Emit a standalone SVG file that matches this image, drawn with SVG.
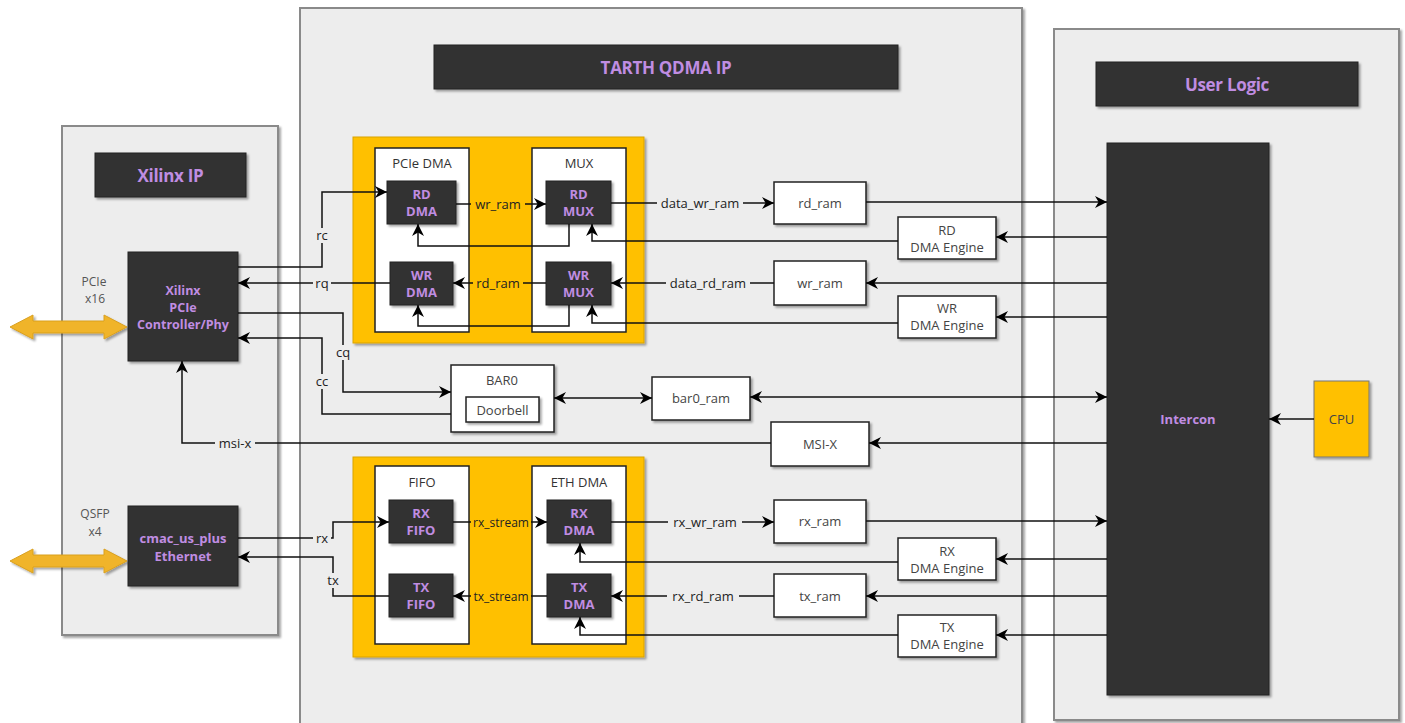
<svg xmlns="http://www.w3.org/2000/svg" width="1405" height="723" viewBox="0 0 1405 723">
<defs>
<filter id="sh" x="-10%" y="-10%" width="130%" height="130%">
<feDropShadow dx="2" dy="2" stdDeviation="1.2" flood-color="#000" flood-opacity="0.35"/>
</filter>
<marker id="ah" viewBox="0 0 10 10" refX="10" refY="5" markerWidth="12" markerHeight="12" markerUnits="userSpaceOnUse" orient="auto-start-reverse">
<path d="M0,0 L10,5 L0,10 L3,5 z" fill="#000"/>
</marker>
<style>
.cont{fill:#ededed;stroke:#8a8a8a;stroke-width:2;filter:url(#sh)}
.dark{fill:#333333;stroke:#222;stroke-width:1;filter:url(#sh)}
.org{fill:#ffc000;stroke:#d9a300;stroke-width:1;filter:url(#sh)}
.wht{fill:#ffffff;stroke:#222;stroke-width:1.5}
.whts{fill:#ffffff;stroke:#222;stroke-width:1.5;filter:url(#sh)}
.cpu{fill:#ffc000;stroke:#777;stroke-width:1;filter:url(#sh)}
.title{font-family:"Open Sans","Liberation Sans",sans-serif;font-weight:bold;font-size:17px;fill:#c08de2;text-anchor:middle;dominant-baseline:central;letter-spacing:-0.3px}
.bl{font-family:"Open Sans","Liberation Sans",sans-serif;font-weight:bold;font-size:13px;fill:#c08de2;text-anchor:middle;dominant-baseline:central}
.wl{font-family:"Open Sans","Liberation Sans",sans-serif;font-size:13px;fill:#444;text-anchor:middle;dominant-baseline:central}
.el{font-family:"Open Sans","Liberation Sans",sans-serif;font-size:13px;fill:#222;text-anchor:middle;dominant-baseline:central}
.gl{font-family:"Open Sans","Liberation Sans",sans-serif;font-size:12px;fill:#555;text-anchor:middle;dominant-baseline:central}
.ln{fill:none;stroke:#111;stroke-width:1.5}
.arr{marker-end:url(#ah)}
.bi{marker-start:url(#ah);marker-end:url(#ah)}
.bgg{fill:#ededed}
.bgo{fill:#ffc000}
.yarrow{fill:#f0b429;stroke:#d9a020;stroke-width:1;filter:url(#sh)}
</style>
</defs>
<rect x="0" y="0" width="1405" height="723" fill="#ffffff"/>

<!-- containers -->
<g id="xilinx-ip">
<rect class="cont" x="62" y="126" width="216" height="509"/>
<rect class="dark" x="95" y="153" width="151" height="44"/>
<text class="title" x="170.5" y="175">Xilinx IP</text>
<text class="gl" x="94" y="281">PCIe</text>
<text class="gl" x="95" y="298">x16</text>
<text class="gl" x="95" y="513">QSFP</text>
<text class="gl" x="95" y="531">x4</text>
</g>
<g id="tarth-qdma-ip">
<rect class="cont" x="300" y="8" width="722" height="722"/>
<rect class="dark" x="434" y="45" width="464" height="44"/>
<text class="title" x="666" y="67">TARTH QDMA IP</text>
</g>
<g id="user-logic">
<rect class="cont" x="1054" y="29" width="345" height="691"/>
<rect class="dark" x="1096" y="62" width="262" height="44"/>
<text class="title" x="1227" y="84">User Logic</text>
</g>

<!-- yellow link arrows -->
<g id="pcie-link">
<polygon class="yarrow" points="10,327 33,315 33,321 104,321 104,315 127,327 104,339 104,333 33,333 33,339"/>
</g>
<g id="qsfp-link">
<polygon class="yarrow" points="10,561 33,549 33,555 104,555 104,549 127,561 104,573 104,567 33,567 33,573"/>
</g>

<g id="pcie-controller">
<rect class="dark" x="128" y="252" width="110" height="109"/>
<text class="bl" x="183" y="290" style="font-size:12.5px">Xilinx</text>
<text class="bl" x="183" y="307" style="font-size:12.5px">PCIe</text>
<text class="bl" x="183" y="324" style="font-size:12.5px">Controller/Phy</text>
</g>
<g id="cmac">
<rect class="dark" x="128" y="506" width="110" height="80"/>
<text class="bl" x="183" y="538">cmac_us_plus</text>
<text class="bl" x="183" y="556">Ethernet</text>
</g>

<!-- PCIe DMA orange block -->
<g id="pcie-block">
<rect class="org" x="353" y="137" width="291" height="206"/>
</g>
<g id="pcie-dma">
<rect class="wht" x="375" y="148" width="94" height="184"/>
<text class="wl" x="422" y="163" style="fill:#333">PCIe DMA</text>
</g>
<g id="mux">
<rect class="wht" x="532" y="148" width="94" height="184"/>
<text class="wl" x="579" y="163" style="fill:#333">MUX</text>
</g>
<g id="rd-dma">
<rect class="dark" x="387" y="181" width="69" height="43"/>
<text class="bl" x="421.5" y="194">RD</text>
<text class="bl" x="421.5" y="211">DMA</text>
</g>
<g id="wr-dma">
<rect class="dark" x="390" y="262" width="63" height="43"/>
<text class="bl" x="421.5" y="275">WR</text>
<text class="bl" x="421.5" y="292">DMA</text>
</g>
<g id="rd-mux">
<rect class="dark" x="546" y="181" width="65" height="43"/>
<text class="bl" x="578.5" y="194">RD</text>
<text class="bl" x="578.5" y="211">MUX</text>
</g>
<g id="wr-mux">
<rect class="dark" x="546" y="262" width="65" height="43"/>
<text class="bl" x="578.5" y="275">WR</text>
<text class="bl" x="578.5" y="292">MUX</text>
</g>

<!-- ETH orange block -->
<g id="eth-block">
<rect class="org" x="353" y="457" width="291" height="200"/>
</g>
<g id="fifo">
<rect class="wht" x="375" y="466" width="94" height="178"/>
<text class="wl" x="422" y="482" style="fill:#333">FIFO</text>
</g>
<g id="eth-dma">
<rect class="wht" x="532" y="466" width="94" height="178"/>
<text class="wl" x="579" y="482" style="fill:#333">ETH DMA</text>
</g>
<g id="rx-fifo">
<rect class="dark" x="389" y="500" width="64" height="43"/>
<text class="bl" x="421" y="513">RX</text>
<text class="bl" x="421" y="530">FIFO</text>
</g>
<g id="tx-fifo">
<rect class="dark" x="389" y="574" width="64" height="43"/>
<text class="bl" x="421" y="587">TX</text>
<text class="bl" x="421" y="604">FIFO</text>
</g>
<g id="rx-dma">
<rect class="dark" x="547" y="500" width="64" height="43"/>
<text class="bl" x="579" y="513">RX</text>
<text class="bl" x="579" y="530">DMA</text>
</g>
<g id="tx-dma">
<rect class="dark" x="547" y="574" width="64" height="43"/>
<text class="bl" x="579" y="587">TX</text>
<text class="bl" x="579" y="604">DMA</text>
</g>

<!-- white ram / engine boxes -->
<g id="rd-ram"><rect class="whts" x="774" y="182" width="92" height="42"/><text class="wl" x="820" y="203">rd_ram</text></g>
<g id="rd-dma-engine"><rect class="whts" x="898" y="217" width="98" height="42"/><text class="wl" x="947" y="230">RD</text><text class="wl" x="947" y="247">DMA Engine</text></g>
<g id="wr-ram"><rect class="whts" x="774" y="261" width="92" height="44"/><text class="wl" x="820" y="283">wr_ram</text></g>
<g id="wr-dma-engine"><rect class="whts" x="898" y="296" width="98" height="42"/><text class="wl" x="947" y="308">WR</text><text class="wl" x="947" y="325">DMA Engine</text></g>
<g id="bar0"><rect class="whts" x="451" y="365" width="103" height="67"/><text class="wl" x="502" y="380">BAR0</text>
<rect class="whts" x="466" y="397" width="73" height="25"/><text class="wl" x="502.5" y="409.5">Doorbell</text></g>
<g id="bar0-ram"><rect class="whts" x="652" y="377" width="98" height="43"/><text class="wl" x="701" y="398">bar0_ram</text></g>
<g id="msi-x"><rect class="whts" x="771" y="422" width="98" height="44"/><text class="wl" x="820" y="444">MSI-X</text></g>
<g id="rx-ram"><rect class="whts" x="774" y="500" width="92" height="43"/><text class="wl" x="820" y="521">rx_ram</text></g>
<g id="rx-dma-engine"><rect class="whts" x="898" y="538" width="98" height="42"/><text class="wl" x="947" y="551">RX</text><text class="wl" x="947" y="568">DMA Engine</text></g>
<g id="tx-ram"><rect class="whts" x="774" y="574" width="92" height="43"/><text class="wl" x="820" y="596">tx_ram</text></g>
<g id="tx-dma-engine"><rect class="whts" x="898" y="615" width="98" height="42"/><text class="wl" x="947" y="627">TX</text><text class="wl" x="947" y="644">DMA Engine</text></g>

<g id="intercon">
<rect class="dark" x="1107" y="143" width="162" height="552"/>
<text class="bl" x="1188" y="419">Intercon</text>
</g>
<g id="cpu">
<rect class="cpu" x="1314" y="381" width="55" height="76"/>
<text class="wl" x="1341.5" y="419" style="fill:#444">CPU</text>
</g>

<!-- connectors -->
<g id="connectors">
<path class="ln arr" d="M238,267 H322 V192 H387"/>
<path class="ln arr" d="M390,283 H238"/>
<path class="ln arr" d="M238,313 H343 V392 H451"/>
<path class="ln arr" d="M451,414 H322 V338 H238"/>
<path class="ln arr" d="M456,204 H546"/>
<path class="ln arr" d="M546,283 H453"/>
<path class="ln arr" d="M569,224 V246 H418 V224"/>
<path class="ln arr" d="M569,305 V326 H418 V305"/>
<path class="ln arr" d="M611,203 H774"/>
<path class="ln arr" d="M898,241 H592 V224"/>
<path class="ln arr" d="M774,283 H611"/>
<path class="ln arr" d="M898,323 H592 V305"/>
<path class="ln arr" d="M866,202 H1107"/>
<path class="ln arr" d="M1107,237 H996"/>
<path class="ln arr" d="M1107,283 H866"/>
<path class="ln arr" d="M1107,317 H996"/>
<path class="ln bi" d="M554,398 H652"/>
<path class="ln bi" d="M750,397 H1107"/>
<path class="ln arr" d="M1107,443 H869"/>
<path class="ln arr" d="M771,443 H182 V361"/>
<path class="ln arr" d="M1314,419 H1269"/>
<path class="ln arr" d="M238,538 H333 V522 H389"/>
<path class="ln arr" d="M389,596 H333 V557 H238"/>
<path class="ln arr" d="M453,522 H547"/>
<path class="ln arr" d="M547,596 H453"/>
<path class="ln arr" d="M611,522 H774"/>
<path class="ln arr" d="M898,562 H580 V543"/>
<path class="ln arr" d="M774,596 H611"/>
<path class="ln arr" d="M898,635 H580 V617"/>
<path class="ln arr" d="M866,521 H1107"/>
<path class="ln arr" d="M1107,559 H996"/>
<path class="ln arr" d="M1107,596 H866"/>
<path class="ln arr" d="M1107,635 H996"/>

<!-- labels -->
<rect class="bgg" x="313" y="228" width="18" height="15"/><text class="el" x="322" y="235">rc</text>
<rect class="bgg" x="313" y="276" width="18" height="15"/><text class="el" x="322" y="283">rq</text>
<rect class="bgg" x="334" y="345" width="18" height="15"/><text class="el" x="343" y="352">cq</text>
<rect class="bgg" x="313" y="374" width="18" height="15"/><text class="el" x="322" y="381">cc</text>
<rect class="bgo" x="471" y="197" width="54" height="15"/><text class="el" x="498" y="204">wr_ram</text>
<rect class="bgo" x="473" y="276" width="50" height="15"/><text class="el" x="498" y="283">rd_ram</text>
<rect class="bgg" x="657" y="196" width="86" height="15"/><text class="el" x="700" y="203">data_wr_ram</text>
<rect class="bgg" x="666" y="276" width="84" height="15"/><text class="el" x="708" y="283">data_rd_ram</text>
<rect class="bgg" x="215" y="436" width="40" height="15"/><text class="el" x="235" y="443">msi-x</text>
<rect class="bgg" x="313" y="531" width="18" height="15"/><text class="el" x="322" y="538">rx</text>
<rect class="bgg" x="325" y="573" width="16" height="15"/><text class="el" x="333" y="580">tx</text>
<rect class="bgo" x="471" y="515" width="60" height="15"/><text class="el" x="501" y="522" style="font-size:12px">rx_stream</text>
<rect class="bgo" x="471" y="589" width="60" height="15"/><text class="el" x="501" y="596" style="font-size:12px">tx_stream</text>
<rect class="bgg" x="668" y="515" width="74" height="15"/><text class="el" x="705" y="522">rx_wr_ram</text>
<rect class="bgg" x="667" y="589" width="72" height="15"/><text class="el" x="703" y="596">rx_rd_ram</text>
</g>
</svg>
